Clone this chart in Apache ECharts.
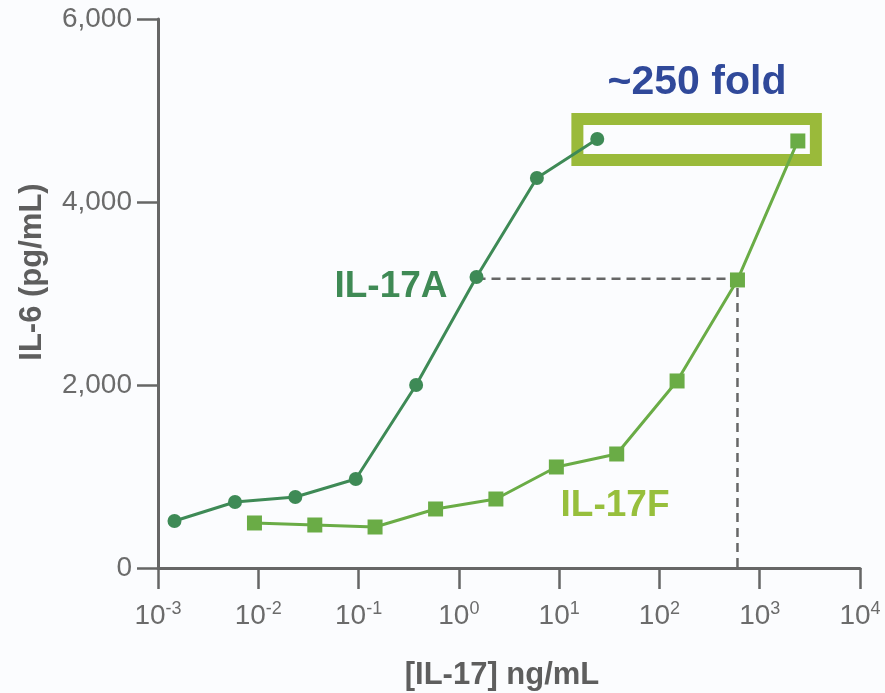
<!DOCTYPE html>
<html>
<head>
<meta charset="utf-8">
<script src="https://cdn.jsdelivr.net/npm/echarts@6/dist/echarts.min.js"></script>
<style>
html,body{margin:0;padding:0;background:#fbfcfe;}
#chart{width:885px;height:693px;}
</style>
</head>
<body>
<div id="chart"></div>
<script>
// Data (concentration ng/mL, IL-6 pg/mL)
var il17aConc = [0.00146, 0.00586, 0.0234, 0.0938, 0.375, 1.5, 6, 24];
var il17aVal  = [514, 721, 776, 973, 2000, 3180, 4262, 4689];
var il17fConc = [0.00916, 0.0366, 0.146, 0.586, 2.34, 9.38, 37.5, 150, 600, 2400];
var il17fVal  = [492, 470, 448, 645, 754, 1104, 1246, 2044, 3148, 4667];
var refConc = [1.5, 600, 600];
var refVal  = [3160, 3160, 0];
var boxConc = [15.2, 3630];
var boxVal  = [4460, 4907];
var yTicks = [0, 2000, 4000, 6000];

var FONT = '"Liberation Sans", Arial, Helvetica, sans-serif';
var GRAY = '#666666';

function pairs(xs, ys){ return xs.map(function(x,i){ return [x, ys[i]]; }); }

var chart = echarts.init(document.getElementById('chart'));
chart.setOption({
  backgroundColor: '#fbfcfe',
  animation: false,
  grid: {left: 158, right: 25, top: 19, bottom: 125, containLabel: false},
  xAxis: {
    type: 'log', logBase: 10, min: 0.001, max: 10000,
    axisLine: {show: true, lineStyle: {color: GRAY, width: 3}},
    axisTick: {show: true, length: 21, lineStyle: {color: GRAY, width: 2.5}},
    splitLine: {show: false},
    minorTick: {show: false},
    axisLabel: {
      margin: 32,
      fontFamily: FONT,
      formatter: function(v){
        var e = Math.round(Math.log10(v));
        return '{b|10}{s|' + e + '}';
      },
      rich: {
        b: {fontSize: 28, color: '#6b6b6b', fontFamily: FONT},
        s: {fontSize: 18, color: '#6b6b6b', fontFamily: FONT, padding: [0, 0, 14, 0]}
      }
    }
  },
  yAxis: {
    type: 'value', min: 0, max: 6000, interval: 2000,
    axisLine: {show: true, lineStyle: {color: GRAY, width: 3}},
    axisTick: {show: true, length: 21, lineStyle: {color: GRAY, width: 2.5}},
    splitLine: {show: false},
    axisLabel: {
      margin: 26, fontSize: 28, color: '#6b6b6b', fontFamily: FONT,
      formatter: function(v){ return v.toLocaleString('en-US'); }
    }
  },
  graphic: [
    {type: 'text', x: 32, y: 272, rotation: Math.PI/2,
     style: {text: 'IL-6 (pg/mL)', font: 'bold 31px ' + FONT, fill: '#5e5e5e', align: 'center', verticalAlign: 'middle'}},
    {type: 'text', x: 502, y: 675,
     style: {text: '[IL-17] ng/mL', font: 'bold 31px ' + FONT, fill: '#5e5e5e', align: 'center', verticalAlign: 'middle'}},
    {type: 'text', x: 697, y: 83, z: 20,
     style: {text: '~250 fold', font: 'bold 41px ' + FONT, fill: '#30499a', align: 'center', verticalAlign: 'middle'}},
    {type: 'text', x: 391, y: 287, z: 20,
     style: {text: 'IL-17A', font: 'bold 37px ' + FONT, fill: '#3f8a55', align: 'center', verticalAlign: 'middle'}},
    {type: 'text', x: 615, y: 506, z: 20,
     style: {text: 'IL-17F', font: 'bold 37px ' + FONT, fill: '#97bf3c', align: 'center', verticalAlign: 'middle'}}
  ],
  series: [
    {
      name: 'ref', type: 'line', data: pairs(refConc, refVal), z: 1,
      symbol: 'none', silent: true,
      lineStyle: {color: GRAY, width: 2.5, type: [9, 6]}
    },
    {
      name: 'IL-17A', type: 'line', data: pairs(il17aConc, il17aVal), z: 3,
      symbol: 'circle', symbolSize: 14,
      itemStyle: {color: '#3e8a56'},
      lineStyle: {color: '#3e8a56', width: 3}
    },
    {
      name: 'IL-17F', type: 'line', data: pairs(il17fConc, il17fVal), z: 3,
      symbol: 'rect', symbolSize: 15,
      itemStyle: {color: '#6aac46'},
      lineStyle: {color: '#6aac46', width: 3}
    },
    {
      name: 'box', type: 'line', data: [], z: 10, silent: true,
      markArea: {
        silent: true,
        itemStyle: {color: 'rgba(0,0,0,0)', borderColor: '#9aba3a', borderWidth: 12},
        data: [[{coord: [boxConc[0], boxVal[1]]}, {coord: [boxConc[1], boxVal[0]]}]]
      }
    }
  ]
});
</script>
</body>
</html>
